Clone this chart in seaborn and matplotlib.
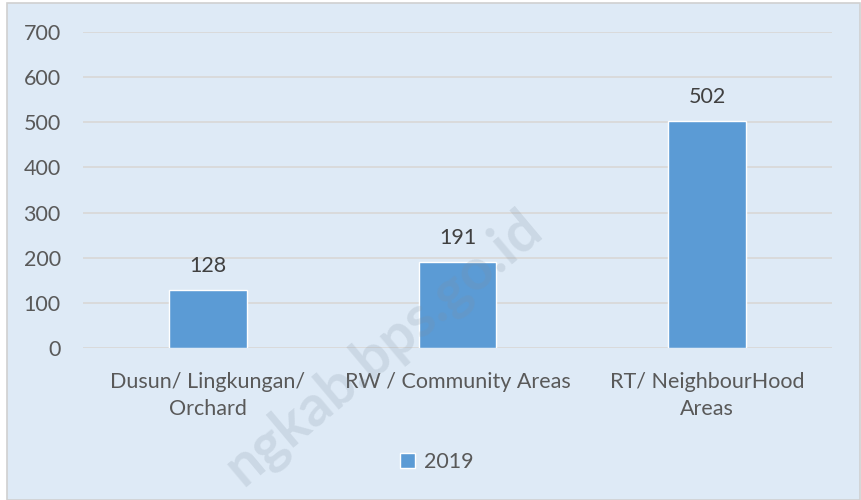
import matplotlib
matplotlib.use("Agg")
import matplotlib.pyplot as plt
import seaborn as sns
import pandas as pd
from matplotlib.patches import Rectangle

categories = ["Dusun/ Lingkungan/\nOrchard", "RW / Community Areas", "RT/ NeighbourHood\nAreas"]
values = [128, 191, 502]
series = ["2019", "2019", "2019"]
yticks = [0, 100, 200, 300, 400, 500, 600, 700]

df = pd.DataFrame({"cat": categories, "val": values, "series": series})

sns.set_theme(style="white")
plt.rcParams["font.family"] = ["Lato", "DejaVu Sans"]

FS = 15.5
W, H = 861, 500
fig = plt.figure(figsize=(W / 100, H / 100), dpi=100, facecolor="white")
bg = Rectangle((6.5 / W, 0), (860 - 6.5) / W, (500 - 2.5) / H, transform=fig.transFigure,
               facecolor="#DEEAF6", edgecolor="#D0D0D0", linewidth=1.2, zorder=-5)
fig.patches.append(bg)

ax = fig.add_axes([83 / W, (H - 348) / H, (832 - 83) / W, (348 - 32) / H])
ax.set_zorder(1)
ax.set_facecolor("none")

sns.barplot(data=df, x="cat", y="val", hue="series", palette=["#5B9BD5"], width=0.31,
            ax=ax, zorder=3, saturation=1)

ax.set_ylim(0, 700)
ax.set_xlim(-0.5, 2.5)
ax.set_yticks(yticks)
ax.set_yticklabels([str(t) for t in yticks])
ax.yaxis.grid(True, color="#D9D9D9", linewidth=1.3, zorder=0)
ax.set_axisbelow(True)
for s in ax.spines.values():
    s.set_visible(False)
ax.set_xlabel("")
ax.set_ylabel("")
ax.tick_params(axis="y", length=0, pad=16, labelsize=FS, labelcolor="#595959")
ax.tick_params(axis="x", length=0, pad=17, labelsize=FS, labelcolor="#595959")
for lbl in ax.get_xticklabels():
    lbl.set_linespacing(1.45)
    lbl.set_multialignment("center")

for cont in ax.containers:
    ax.bar_label(cont, labels=[str(v) for v in values], padding=10, fontsize=FS, color="#404040")

leg = ax.legend(loc="center", bbox_to_anchor=(437 / W, 1 - 462 / H), bbox_transform=fig.transFigure,
                frameon=False, fontsize=FS, handlelength=0.7, handleheight=0.7, handletextpad=0.4)
for t in leg.get_texts():
    t.set_color("#595959")

fig.text(383 / W, 1 - 348 / H, "ngkab.bps.go.id", rotation=40, fontsize=41, fontweight="bold",
         color="#8090a0", alpha=0.2, ha="center", va="center", zorder=10)

fig.savefig("out.png", dpi=100, facecolor="white")
